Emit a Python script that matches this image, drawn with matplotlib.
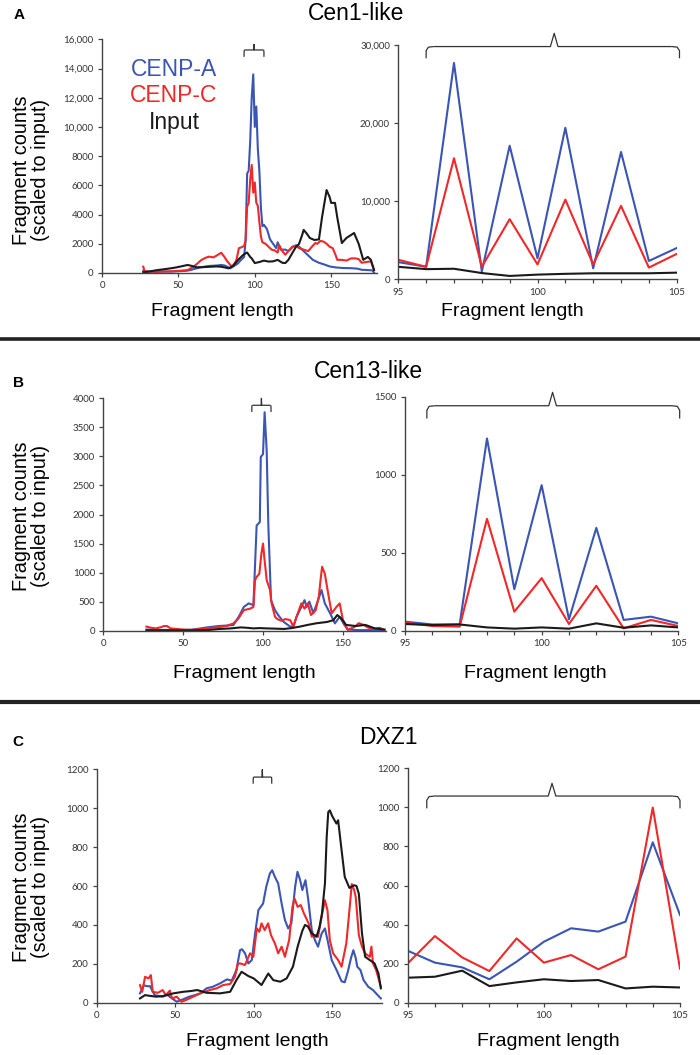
"""Fragment length profiles for CENP-A / CENP-C / input at three centromere arrays."""

import matplotlib
matplotlib.use("Agg")
import matplotlib.pyplot as plt

W, H = 700, 1055

BLUE = "#3B55B5"
RED = "#F0282A"
BLACK = "#1A1A1A"

TICK_FONT = ["Lato", "DejaVu Sans"]
LABEL_FONT = ["Liberation Sans", "DejaVu Sans"]

# ---- panel A: Cen1-like, full range (smoothed) ----
a_blue_x = [27, 30, 35, 40, 45, 50, 55, 58, 60, 63, 65, 68, 70, 73, 76, 78, 80, 82, 84, 86, 89, 91, 93, 94,
            95, 96, 97, 98, 99, 100, 101, 102, 103, 104, 105, 106, 108, 110, 112, 114, 115, 117, 120, 122,
            125, 127, 129, 131, 133, 136, 138, 142, 145, 149, 153, 158, 163, 167, 170, 174, 177, 178]
a_blue_y = [150, 100, 80, 100, 100, 120, 150, 200, 270, 350, 400, 450, 480, 500, 520, 550, 520, 430, 320, 450,
            660, 900, 1100, 2200, 6800, 7000, 9000, 12000, 13600, 10000, 11400, 8500, 7000, 4500, 3200, 3300,
            3000, 2300, 2000, 1700, 2100, 1600, 1600, 1500, 1800, 1900, 1800, 1600, 1400, 1100, 900, 700, 600,
            450, 380, 340, 330, 300, 220, 200, 180, 30]
a_red_x = [27, 28, 32, 36, 40, 45, 49, 53, 56, 60, 63, 65, 68, 70, 73, 76, 78, 80, 82, 84, 85, 87, 88, 89.6,
           91, 93, 94, 95, 96, 97, 98, 99, 100, 101, 102, 103, 104, 105, 107, 109, 111, 113, 115, 116, 118,
           120, 122, 124.6, 127, 129, 132, 135, 137, 139.6, 141, 143, 145, 147, 149, 151, 153, 154, 157, 160,
           163, 166, 168, 170, 173, 176, 178]
a_red_y = [430, 90, 100, 80, 100, 110, 140, 170, 200, 430, 700, 890, 1050, 1120, 1070, 1250, 1390, 1120, 800,
           550, 430, 700, 890, 1700, 1750, 1850, 2250, 4540, 4800, 6400, 7400, 5500, 6200, 4800, 4600, 3500,
           2500, 2100, 2000, 1800, 1600, 1550, 1400, 1900, 1500, 1250, 1500, 1800, 1850, 1700, 1600, 1500,
           1750, 2050, 2000, 2200, 2150, 2000, 1800, 1700, 1200, 900, 900, 850, 1000, 1000, 950, 700, 750,
           800, 250]
a_input_x = [27, 31, 35, 40, 45, 49, 53, 56, 59, 62, 66, 71, 75, 78, 83, 86, 89, 92, 94, 95, 97, 98, 100,
             103, 106, 109, 112, 115, 118, 120, 122, 124.6, 127, 129, 131, 132, 134, 136, 139, 142, 144, 147,
             149, 150, 152.5, 154, 157, 160, 163, 165, 168, 171, 174, 176, 178]
a_input_y = [50, 100, 180, 250, 320, 390, 480, 550, 480, 390, 400, 430, 450, 430, 320, 500, 890, 1200, 1350,
             1400, 1100, 1000, 680, 750, 850, 780, 800, 900, 700, 680, 900, 1370, 1800, 2000, 2600, 2950, 2700,
             2400, 2260, 2300, 3800, 5680, 5200, 4800, 4800, 3800, 2050, 2400, 2600, 2740, 2000, 900, 1100,
             900, 200]

# ---- zoom windows (per base pair) ----
zoom_x = [95, 96, 97, 98, 99, 100, 101, 102, 103, 104, 105]
a_zoom_blue = [2200, 1600, 27700, 1000, 17100, 2700, 19400, 1400, 16300, 2350, 4000]
a_zoom_red = [2500, 1600, 15500, 1600, 7700, 1900, 10200, 1900, 9400, 1500, 3250]
a_zoom_input = [1600, 1300, 1350, 800, 430, 600, 700, 770, 770, 770, 850]

# ---- panel B: Cen13-like ----
b_blue_x = [27, 35, 45, 55, 65, 72, 78, 81.5, 85, 88, 91, 94, 96, 98, 98.6, 100, 101, 102.3, 103.3, 105,
            107.5, 110, 113, 117, 119, 121, 124, 126, 127.3, 129, 131.5, 134.5, 136.6, 138.7, 142, 145, 148,
            151, 153, 160, 170, 176]
b_blue_y = [20, 15, 10, 15, 57, 80, 90, 97, 250, 410, 470, 440, 1810, 1870, 2990, 3040, 3760, 3100, 1840,
            526, 354, 250, 150, 70, 70, 240, 410, 526, 410, 500, 300, 526, 700, 470, 300, 126, 240, 97, 20,
            10, 10, 5]
b_red_x = [27, 30, 33, 36, 38, 40, 42, 46, 50, 55, 60, 65, 70, 77, 81.5, 84.6, 88, 92, 94, 95, 96, 97.7,
           99, 100, 101, 102.3, 104.4, 105.4, 107.5, 109, 111.6, 114, 117, 119, 121, 124, 126, 128, 130, 133,
           135, 136, 137, 138.7, 140.8, 143, 146, 148, 150, 153, 157, 160, 163, 166, 170, 173, 176]
b_red_y = [70, 50, 40, 60, 80, 80, 40, 30, 20, 15, 25, 40, 55, 80, 126, 210, 354, 380, 410, 870, 925, 980,
           1330, 1500, 1210, 870, 700, 470, 240, 200, 170, 200, 183, 70, 240, 470, 380, 470, 270, 354, 600,
           870, 1100, 980, 640, 300, 410, 470, 188, 17, 60, 130, 100, 50, 35, 50, 10]
b_input_x = [27, 40, 55, 65, 73, 80, 86, 90, 94, 98, 102, 108, 113, 118, 123, 128, 133, 137, 140, 144,
             146.5, 149, 152, 158, 164, 170, 176]
b_input_y = [5, 5, 5, 10, 30, 40, 57, 50, 40, 45, 40, 35, 30, 45, 70, 100, 126, 140, 150, 180, 270, 210,
             100, 80, 100, 40, 20]

b_zoom_blue = [58, 40, 40, 1232, 266, 933, 73, 659, 69, 90, 47]
b_zoom_red = [52, 30, 26, 717, 122, 337, 43, 288, 15, 69, 30]
b_zoom_input = [43, 36, 40, 21, 13, 21, 13, 47, 19, 34, 21]

# ---- panel C: DXZ1 ----
c_blue_x = [27.6, 30, 32, 34, 35.5, 37, 42, 45, 48, 51, 54, 59, 63, 66, 70, 74, 78.5, 83, 86, 89, 91.3,
            92.5, 94.5, 96.6, 98.8, 100.9, 103, 106, 108, 110.3, 111.8, 113.5, 115.6, 117.8, 119.9, 122, 124,
            126.4, 127.9, 129.6, 131, 133, 134.8, 137, 139, 141, 143.3, 145.4, 147.5, 149.7, 152.8, 156, 158,
            160, 162, 163.5, 165, 166, 168, 170, 173, 176, 179, 181]
c_blue_y = [48, 90, 85, 85, 60, 39, 31, 40, 22, 5, 14, 31, 40, 48, 74, 82, 99, 120, 113, 168, 270, 275, 254,
            202, 219, 356, 476, 510, 596, 664, 681, 647, 613, 510, 425, 382, 408, 596, 673, 630, 579, 630,
            527, 373, 322, 288, 356, 382, 305, 219, 168, 110, 105, 160, 230, 270, 230, 185, 168, 116, 82, 65,
            39, 22]
c_red_x = [27.6, 29, 30.8, 33, 34.5, 35.7, 39, 42, 44, 46.6, 48, 51, 54, 57, 61.5, 66, 72, 76.5, 80.6, 85,
           88, 90, 91.3, 94.5, 97.7, 99.8, 102, 103.6, 105, 107, 109.2, 111, 113.5, 115.6, 117.8, 119.9, 122.6,
           124.7, 126, 128, 130, 132, 135, 137, 139, 141, 143.3, 145.4, 147, 148.5, 150.6, 153.8, 156, 159,
           161, 162.5, 164, 165, 167, 169, 171, 174, 175, 176, 178, 181]
c_red_y = [90, 56, 133, 125, 142, 56, 51, 65, 39, 62, 22, 31, 5, 14, 31, 48, 65, 74, 91, 96, 133, 200, 202,
           194, 254, 236, 382, 365, 408, 373, 408, 348, 305, 254, 288, 236, 322, 493, 536, 493, 502, 459, 408,
           339, 348, 339, 442, 527, 476, 322, 254, 219, 185, 305, 476, 610, 580, 544, 347, 288, 253, 236, 288,
           202, 168, 82]
c_input_x = [27.6, 30.8, 34, 38, 42, 48.8, 55, 60, 64, 70, 78.5, 85, 89, 92.3, 96.6, 100, 105, 109.3, 112.5,
             117, 121, 125, 128, 131, 132.7, 134.6, 137, 140, 142, 143.5, 145.4, 146.5, 147.5, 148.5, 150,
             152.7, 153.8, 156, 158, 161, 163, 164, 165.5, 167, 169, 171, 174, 177, 179.5, 181]
c_input_y = [22, 39, 35, 31, 34, 48, 56, 60, 65, 51, 48, 56, 116, 159, 137, 125, 91, 150, 116, 108, 125, 185,
             288, 370, 400, 391, 356, 339, 391, 459, 613, 850, 980, 989, 960, 921, 938, 784, 647, 590, 600, 604,
             600, 560, 356, 236, 219, 202, 150, 74]

c_zoom_blue = [266, 205, 181, 120, 210, 312, 381, 364, 415, 821, 449]
c_zoom_red = [201, 341, 232, 162, 329, 205, 244, 171, 236, 999, 174]
c_zoom_input = [128, 133, 164, 85, 104, 120, 111, 116, 73, 82, 78]

a_left_ticks = [0, 2000, 4000, 6000, 8000, 10000, 12000, 14000, 16000]
a_left_labels = ["0", "2000", "4000", "6000", "8000", "10,000", "12,000", "14,000", "16,000"]
a_right_ticks = [0, 10000, 20000, 30000]
a_right_labels = ["0", "10,000", "20,000", "30,000"]
b_left_ticks = [0, 500, 1000, 1500, 2000, 2500, 3000, 3500, 4000]
b_right_ticks = [0, 500, 1000, 1500]
c_ticks = [0, 200, 400, 600, 800, 1000, 1200]
full_xticks = [0, 50, 100, 150]
zoom_xticks = [95, 100, 105]


def _rect(x0, x1, ytop, ybot):
    return [x0 / W, 1 - ybot / H, (x1 - x0) / W, (ybot - ytop) / H]


def _style(ax, xlim, ylim, yticks, ylabels, xticks, minor=False):
    ax.set_xlim(*xlim)
    ax.set_ylim(*ylim)
    for s in ("top", "right"):
        ax.spines[s].set_visible(False)
    for s in ("left", "bottom"):
        ax.spines[s].set_color("#444")
        ax.spines[s].set_linewidth(1.0)
    ax.set_yticks(yticks)
    ax.set_yticklabels(ylabels, fontfamily=TICK_FONT, fontsize=7, color="#333")
    ax.set_xticks(xticks)
    ax.set_xticklabels([str(t) for t in xticks], fontfamily=TICK_FONT, fontsize=7, color="#333")
    ax.tick_params(direction="out", length=3, width=0.9, color="#444", pad=3)
    if minor:
        ax.set_xticks(list(range(int(xlim[0]), int(xlim[1]) + 1)), minor=True)
        ax.tick_params(which="minor", direction="out", length=3, width=0.9, color="#444")
    ax.patch.set_visible(False)


def _brace(ax, x0, x1, y, yend, ytip, xmid):
    dx = (x1 - x0) * 0.03
    dy = y - yend
    kw = dict(color="#333", lw=0.9, clip_on=False, solid_capstyle="butt")
    ax.plot([x0, x0, x0 + dx * 0.3, x0 + dx], [yend, y - dy * 0.35, y - dy * 0.05, y], **kw)
    ax.plot([x1, x1, x1 - dx * 0.3, x1 - dx], [yend, y - dy * 0.35, y - dy * 0.05, y], **kw)
    ax.plot([x0 + dx, xmid - dx * 0.5, xmid, xmid + dx * 0.5, x1 - dx],
            [y, y, ytip, y, y], **kw)


def _curves(ax, x, blue, red, black):
    ax.plot(x[0], blue, color=BLUE, lw=1.5)
    ax.plot(x[1], red, color=RED, lw=1.5)
    ax.plot(x[2], black, color=BLACK, lw=1.5)


def main():
    fig = plt.figure(figsize=(W / 100, H / 100), dpi=100)

    # panel A
    ax = fig.add_axes(_rect(102, 377, 39.3, 273))
    _curves(ax, (a_blue_x, a_red_x, a_input_x), a_blue_y, a_red_y, a_input_y)
    _style(ax, (0, 180), (0, 16000), a_left_ticks, a_left_labels, full_xticks)
    _brace(ax, 93, 106, 15270, 14800, 15650, 99.5)

    ax = fig.add_axes(_rect(398.3, 676.7, 45, 279.3))
    _curves(ax, (zoom_x, zoom_x, zoom_x), a_zoom_blue, a_zoom_red, a_zoom_input)
    _style(ax, (95, 105), (0, 30000), a_right_ticks, a_right_labels, zoom_xticks, minor=True)
    _brace(ax, 96, 105.1, 29800, 28300, 31500, 100.6)

    # panel B
    ax = fig.add_axes(_rect(103.3, 386, 398.3, 630.7))
    _curves(ax, (b_blue_x, b_red_x, b_input_x), b_blue_y, b_red_y, b_input_y)
    _style(ax, (0, 177), (0, 4000), b_left_ticks, [str(t) for t in b_left_ticks], full_xticks)
    _brace(ax, 93, 105, 3880, 3765, 4000, 99)

    ax = fig.add_axes(_rect(405, 678.3, 396.7, 630.7))
    _curves(ax, (zoom_x, zoom_x, zoom_x), b_zoom_blue, b_zoom_red, b_zoom_input)
    _style(ax, (95, 105), (0, 1500), b_right_ticks, [str(t) for t in b_right_ticks], zoom_xticks, minor=True)
    _brace(ax, 95.8, 105.05, 1442, 1360, 1528, 100.4)

    # panel C
    ax = fig.add_axes(_rect(96.7, 382.4, 769.3, 1002.7))
    _curves(ax, (c_blue_x, c_red_x, c_input_x), c_blue_y, c_red_y, c_input_y)
    _style(ax, (0, 182), (0, 1200), c_ticks, [str(t) for t in c_ticks], full_xticks)
    _brace(ax, 99.7, 111.5, 1160, 1126, 1198, 105.5)

    ax = fig.add_axes(_rect(407.7, 680, 768.3, 1002.7))
    _curves(ax, (zoom_x, zoom_x, zoom_x), c_zoom_blue, c_zoom_red, c_zoom_input)
    _style(ax, (95, 105), (0, 1200), c_ticks, [str(t) for t in c_ticks], zoom_xticks, minor=True)
    _brace(ax, 95.7, 105.0, 1058, 995, 1123, 100.3)

    # text: titles, panel letters, axis labels
    def ftext(x, y, s, **kw):
        kw.setdefault("fontfamily", LABEL_FONT)
        fig.text(x / W, 1 - y / H, s, ha=kw.pop("ha", "center"), va=kw.pop("va", "center"), **kw)

    ftext(356, 14, "Cen1-like", fontsize=16.5)
    ftext(368, 372, "Cen13-like", fontsize=16.5)
    ftext(388, 738, "DXZ1", fontsize=16.5)
    ftext(19, 15, "A", fontsize=11, fontweight="bold")
    ftext(18, 383, "B", fontsize=11, fontweight="bold")
    ftext(18, 742, "C", fontsize=11, fontweight="bold")

    ylab = "Fragment counts\n(scaled to input)"
    for yc in (170, 516, 887):
        ftext(31, yc, ylab, fontsize=14.3, rotation=90, linespacing=1.0)

    for xc, yc in ((222, 311), (512, 311), (244, 674), (535, 674), (257, 1041), (548, 1041)):
        ftext(xc, yc, "Fragment length", fontsize=14)

    ftext(174, 70, "CENP-A", fontsize=16.5, color=BLUE)
    ftext(174, 96, "CENP-C", fontsize=16.5, color=RED)
    ftext(174, 122, "Input", fontsize=16.5, color=BLACK)

    # separators between panels
    for ys, lw in ((338.5, 2.6), (702, 3.0)):
        fig.add_artist(plt.Line2D([0, 1], [1 - ys / H, 1 - ys / H], color="#222", lw=lw))

    fig.savefig("out.png", dpi=100, facecolor="white")
    plt.close(fig)


if __name__ == "__main__":
    main()
